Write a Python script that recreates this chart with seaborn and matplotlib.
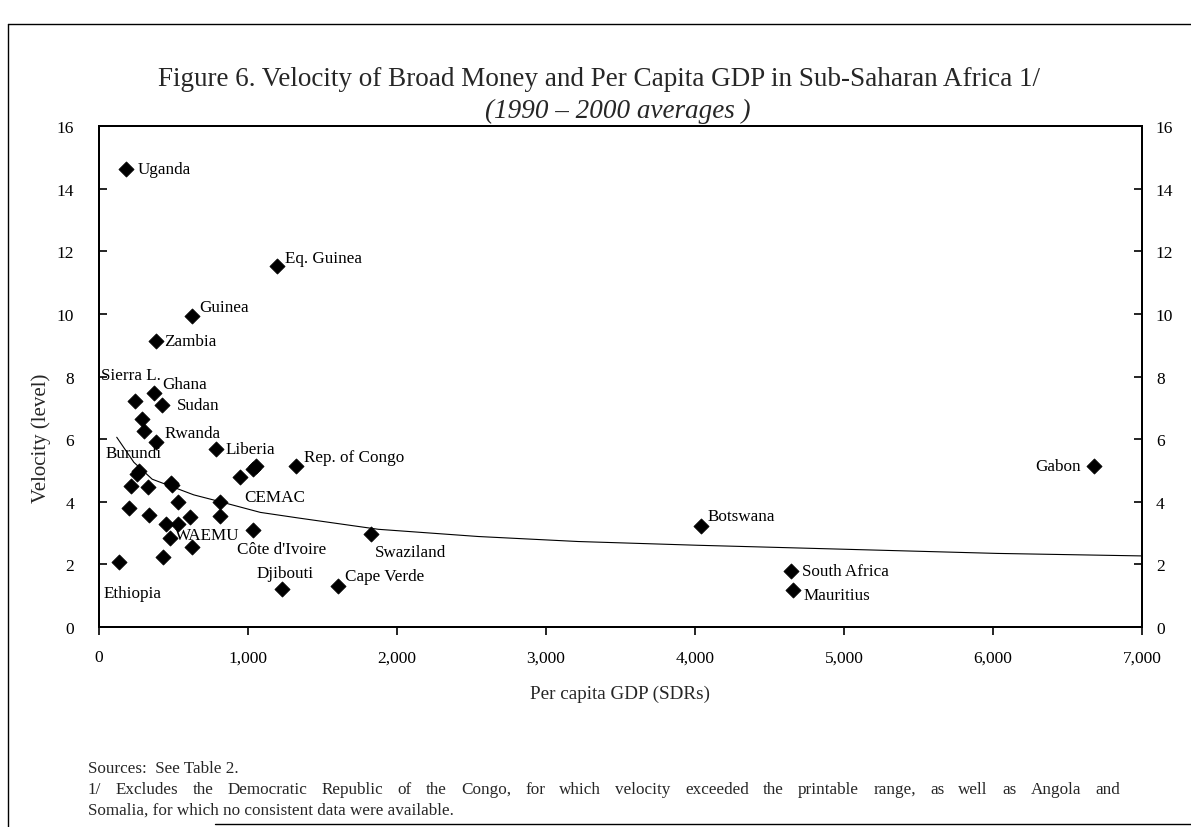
import matplotlib
matplotlib.use("Agg")
import matplotlib.pyplot as plt
import matplotlib.ticker as mticker
from matplotlib.lines import Line2D
import seaborn as sns
import pandas as pd

# ---------------- data ----------------
gdp = [179, 1194, 625, 384, 368, 239, 420, 290, 301, 384, 786, 1035, 1055,
       949, 1321, 268, 257, 216, 330, 480, 491, 529, 815, 201, 335, 810,
       614, 453, 531, 476, 621, 430, 134, 1033, 1226, 1601, 1827, 4039,
       4642, 4655, 6678]
velocity = [14.62, 11.54, 9.94, 9.13, 7.46, 7.21, 7.09, 6.65, 6.25, 5.91,
            5.68, 5.05, 5.15, 4.78, 5.14, 4.97, 4.88, 4.49, 4.46, 4.60, 4.55,
            3.99, 4.00, 3.81, 3.59, 3.55, 3.51, 3.29, 3.30, 2.83, 2.57, 2.25,
            2.07, 3.11, 1.21, 1.30, 2.97, 3.24, 1.80, 1.17, 5.15]
labels = ["Uganda", "Eq. Guinea", "Guinea", "Zambia", "Ghana", "Sierra L.",
          "Sudan", "", "", "Rwanda", "Liberia", "", "", "", "Rep. of Congo",
          "Burundi", "", "", "", "", "", "", "CEMAC", "", "", "", "", "", "",
          "WAEMU", "", "", "Ethiopia", "Côte d'Ivoire", "Djibouti",
          "Cape Verde", "Swaziland", "Botswana", "South Africa", "Mauritius",
          "Gabon"]

# fitted curve as drawn in the reference
curve_gdp = [119, 234, 357, 636, 815, 1083, 1340, 1875, 2545, 3215, 4019,
             4488, 6028, 7000]
curve_vel = [6.06, 5.26, 4.72, 4.22, 4.00, 3.66, 3.48, 3.12, 2.89, 2.73,
             2.61, 2.55, 2.35, 2.27]

x_ticks = [0, 1000, 2000, 3000, 4000, 5000, 6000, 7000]
y_ticks = [0, 2, 4, 6, 8, 10, 12, 14, 16]

title = "Figure 6. Velocity of Broad Money and Per Capita GDP in Sub-Saharan Africa 1/"
subtitle = "(1990 – 2000 averages )"
source_note = "Sources:  See Table 2."
foot_1 = ("1/ Excludes the Democratic Republic of the Congo, for which velocity "
          "exceeded the printable range, as well as Angola and")
foot_2 = "Somalia, for which no consistent data were available."

# label placement (pixel offsets from marker, alignment)
label_style = {
    "Uganda": (12, 0, "left"), "Eq. Guinea": (8, 8, "left"),
    "Guinea": (7, 9, "left"), "Zambia": (8, 0, "left"),
    "Ghana": (8, 9, "left"), "Sierra L.": (-4, 26, "center"),
    "Sudan": (15, 0, "left"), "Rwanda": (8, 9, "left"),
    "Liberia": (9, 0, "left"), "Rep. of Congo": (8, 9, "left"),
    "Burundi": (-5, 18, "center"), "CEMAC": (24, 5, "left"),
    "WAEMU": (5, 3, "left"), "Côte d'Ivoire": (29, -19, "center"),
    "Swaziland": (4, -18, "left"), "Djibouti": (3, 16, "center"),
    "Cape Verde": (7, 10, "left"), "Ethiopia": (14, -31, "center"),
    "Botswana": (7, 10, "left"), "South Africa": (11, 0, "left"),
    "Mauritius": (11, -5, "left"), "Gabon": (-13, 0, "right"),
}

df = pd.DataFrame({"gdp": gdp, "velocity": velocity, "label": labels})
curve = pd.DataFrame({"gdp": curve_gdp, "velocity": curve_vel})

# ---------------- styling ----------------
sns.set_theme(style="ticks")
plt.rcParams["font.family"] = ["Liberation Serif", "DejaVu Serif"]
plt.rcParams["axes.linewidth"] = 1.4

W, H = 1191, 828
fig = plt.figure(figsize=(W / 100, H / 100), dpi=100)
fig.patch.set_facecolor("white")
L, R, T, B = 99, 1142, 127, 628
ax = fig.add_axes([L / W, 1 - B / H, (R - L) / W, (B - T) / H])
ax.set_facecolor("white")

sns.lineplot(data=curve, x="gdp", y="velocity", ax=ax, color="black",
             linewidth=0.8, sort=False, estimator=None)
sns.scatterplot(data=df, x="gdp", y="velocity", ax=ax, marker="D", s=60,
                color="black", edgecolor="black", linewidth=0.5, zorder=3)

for xv, yv, lab in zip(gdp, velocity, labels):
    if not lab:
        continue
    dx, dy, ha = label_style[lab]
    ax.annotate(lab, (xv, yv), xytext=(dx, dy), textcoords="offset pixels",
                ha=ha, va="center", fontsize=12.3, color="black")

ax.set_xlim(0, 7000)
ax.set_ylim(0, 16)
ax.set_xticks(x_ticks)
ax.set_yticks(y_ticks)
ax.xaxis.set_major_formatter(mticker.FuncFormatter(lambda v, p: f"{int(v):,}"))
ax.tick_params(axis="x", direction="out", length=6, width=1.2, labelsize=12.5,
               pad=10, colors="black")
ax.tick_params(axis="y", direction="in", length=6, width=1.2, labelsize=12.5,
               pad=18, colors="black")
ax.set_xlabel("Per capita GDP (SDRs)", fontsize=13.8, labelpad=14)
ax.set_ylabel("Velocity (level)", fontsize=15)
ax.yaxis.set_label_coords((51 - L) / (R - L), (B - 438) / (B - T))
for sp in ax.spines.values():
    sp.set_color("black")
    sp.set_visible(True)

ax2 = ax.twinx()
ax2.set_ylim(0, 16)
ax2.set_yticks(y_ticks)
ax2.tick_params(axis="y", direction="in", length=6, width=1.2, labelsize=12.5,
                pad=10, colors="black")
for sp in ax2.spines.values():
    sp.set_color("black")

fig.text(0.503, 1 - 80 / H, title, ha="center", va="center", fontsize=19.5)
fig.text(618 / W, 1 - 111 / H, subtitle, ha="center", va="center",
         fontsize=19.5, style="italic")

FOOT_FS = 12.3
fig.text(88 / W, 1 - 769 / H, source_note, ha="left", va="center", fontsize=FOOT_FS)
fig.text(88 / W, 1 - 811 / H, foot_2, ha="left", va="center", fontsize=FOOT_FS)

# justified footnote line (spread between x=88 and x=1120 px)
renderer = fig.canvas.get_renderer()
words = foot_1.split(" ")
word_texts = [fig.text(0, 1 - 790 / H, w, ha="left", va="center", fontsize=FOOT_FS)
              for w in words]
widths = [t.get_window_extent(renderer=renderer).width for t in word_texts]
x0, x1 = 88, 1120
gap = (x1 - x0 - sum(widths)) / (len(words) - 1)
xpos = x0
for t, wd in zip(word_texts, widths):
    t.set_x(xpos / W)
    xpos += wd + gap

# outer frame of the figure box
for xs, ys in [([8, 8], [25, 828]), ([8, 1191], [25, 25]), ([215, 1191], [825, 825])]:
    fig.add_artist(Line2D([x / W for x in xs], [1 - y / H for y in ys],
                          color="black", linewidth=1.0))

fig.savefig("out.png", dpi=100, facecolor="white")
